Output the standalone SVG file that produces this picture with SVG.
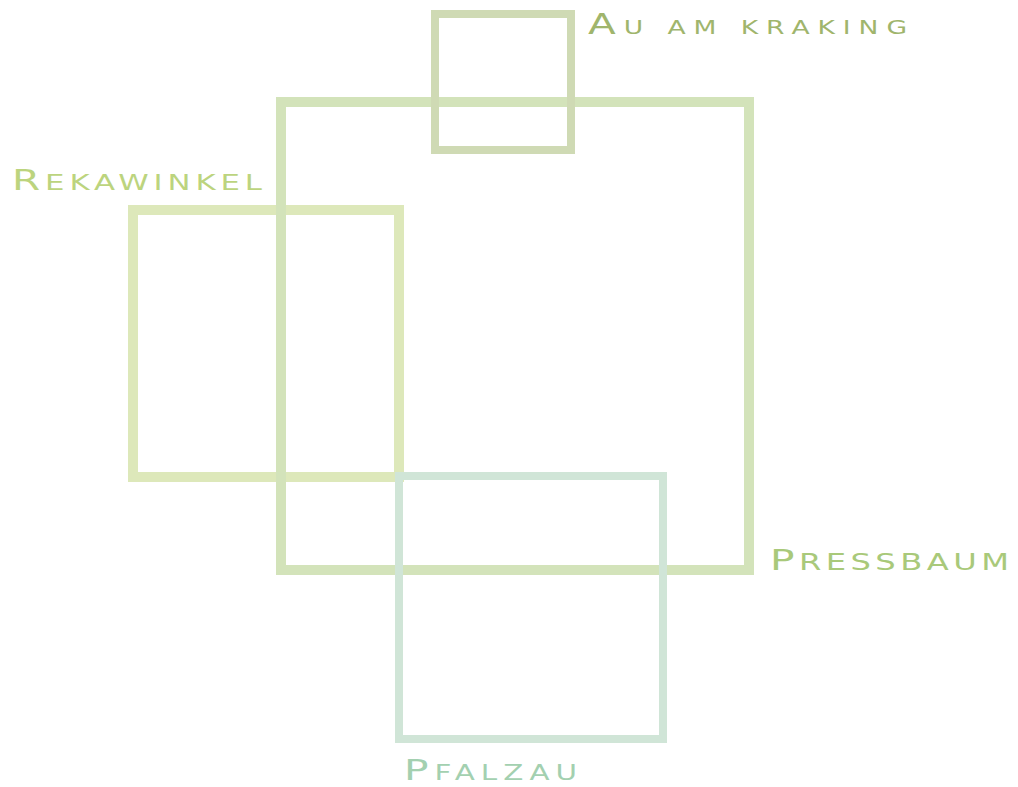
<svg xmlns="http://www.w3.org/2000/svg" width="1018" height="787" viewBox="0 0 1018 787">
<style>
.box{fill:none}
.lbl{font-family:"DejaVu Sans","Liberation Sans",sans-serif;font-size:29px}
</style>
<rect width="1018" height="787" fill="#ffffff"/>
<g id="rekawinkel">
<rect class="box" x="133" y="210" width="266" height="267" stroke="#dde8ba" stroke-width="10"/>
<text class="lbl" transform="translate(12,190) scale(1.4,1)" fill="#bcd47e" textLength="178.6" lengthAdjust="spacing">R<tspan font-size="22">EKAWINKEL</tspan></text>
</g>
<g id="pressbaum">
<rect class="box" x="281" y="102" width="468" height="468" stroke="#d3e3ba" stroke-width="10"/>
<text class="lbl" transform="translate(770,570) scale(1.4,1)" fill="#a9c97a" textLength="170.7" lengthAdjust="spacing">P<tspan font-size="23">RESSBAUM</tspan></text>
</g>
<g id="au-am-kraking">
<rect class="box" x="435" y="14" width="136" height="136" stroke="#cfdab4" stroke-width="8"/>
<text class="lbl" transform="translate(588,34) scale(1.4,1)" fill="#a0b56c" textLength="227.9" lengthAdjust="spacing">A<tspan font-size="19">U AM KRAKING</tspan></text>
</g>
<g id="pfalzau">
<rect class="box" x="399" y="476" width="264" height="263" stroke="#d0e5d7" stroke-width="8"/>
<text class="lbl" transform="translate(404,780) scale(1.4,1)" fill="#a3d0b0" textLength="123.6" lengthAdjust="spacing">P<tspan font-size="21">FALZAU</tspan></text>
</g>
<g id="connectors"/>
</svg>
